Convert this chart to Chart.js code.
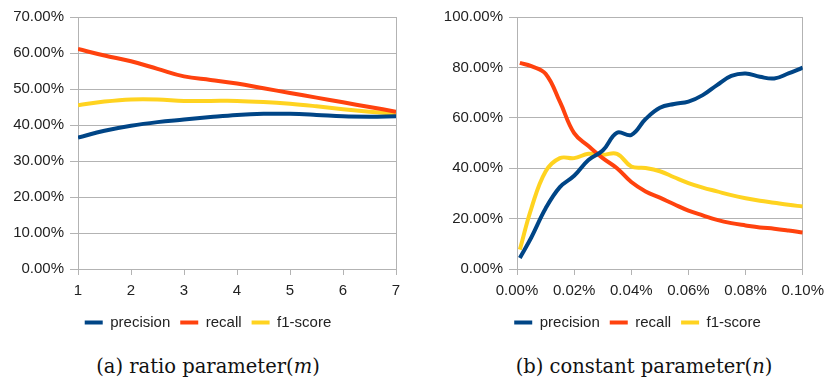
<!DOCTYPE html>
<html>
<head>
<meta charset="utf-8">
<script src="https://cdn.jsdelivr.net/npm/chart.js@4"></script>
<style>
  body { margin: 0; background: #fff; width: 831px; height: 378px; position: relative; overflow: hidden; }
  .box { position: absolute; top: 0; }
  .caption { position: absolute; top: 355px; font-family: "DejaVu Serif", serif; font-size: 19.5px; color: #111; white-space: nowrap; transform: translateX(-50%); }
</style>
</head>
<body>
<div class="box" style="left:0px"><canvas id="chartM" width="415" height="340"></canvas></div>
<div class="box" style="left:441px"><canvas id="chartN" width="390" height="340"></canvas></div>
<div class="caption" style="left:208px">(a) ratio parameter(<i>m</i>)</div>
<div class="caption" style="left:644px">(b) constant parameter(<i>n</i>)</div>
<script>
// (a) ratio parameter m
const mValues = [1, 1.5, 2, 2.5, 3, 3.5, 4, 4.5, 5, 5.5, 6, 6.5, 7];
const precisionM = [36.5, 38.4, 39.8, 40.8, 41.5, 42.2, 42.8, 43.1, 43.1, 42.8, 42.4, 42.3, 42.4];
const recallM = [61.1, 59.3, 57.7, 55.6, 53.5, 52.5, 51.5, 50.2, 48.9, 47.6, 46.3, 45.0, 43.7];
const f1M = [45.5, 46.5, 47.1, 47.1, 46.7, 46.7, 46.7, 46.4, 45.9, 45.2, 44.4, 43.7, 43.1];

// (b) constant parameter n (in %)
const nValues = [0.001, 0.005, 0.01, 0.015, 0.02, 0.025, 0.03, 0.035, 0.04, 0.045, 0.05,
  0.055, 0.06, 0.065, 0.07, 0.075, 0.08, 0.085, 0.09, 0.095, 0.1];
const precisionN = [4.4, 12.5, 24.0, 32.5, 37.0, 43.3, 47.0, 54.1, 53.2, 59.5, 64.0,
  65.5, 66.4, 69.0, 73.0, 76.6, 77.6, 76.3, 75.6, 77.6, 79.9];
const recallN = [81.8, 80.5, 77.5, 66.4, 53.9, 48.8, 44.0, 40.0, 34.5, 30.8, 28.3,
  25.7, 23.2, 21.3, 19.5, 18.2, 17.3, 16.5, 16.0, 15.3, 14.5];
const f1N = [7.7, 24.0, 38.7, 44.0, 44.0, 45.7, 45.3, 45.7, 40.7, 40.1, 38.8,
  36.4, 34.1, 32.3, 30.8, 29.3, 28.1, 27.1, 26.3, 25.5, 24.8];

const seriesNames = ['precision', 'recall', 'f1-score'];
const colors = ['#004586', '#ff420e', '#ffd320'];
const gridGray = '#b3b3b3';
const textColor = '#222';

function pts(xs, ys) {
  return xs.map((x, i) => ({ x: x, y: ys[i] }));
}

function makeDatasets(xs, lists) {
  return lists.map((ys, i) => ({
    label: seriesNames[i],
    data: pts(xs, ys),
    borderColor: colors[i],
    backgroundColor: colors[i],
    borderWidth: 4,
    pointRadius: 0,
    tension: 0.4,
    fill: false
  }));
}

// nudge the legend sideways, the original is not centred on the plot
function legendShift(dx) {
  return {
    id: 'legendShift',
    afterLayout(chart) {
      chart.legend.left += dx;
      chart.legend.right += dx;
    }
  };
}

function makeConfig(datasets, xOpts, yOpts, yWidth, padRight, dx) {
  return {
    type: 'line',
    data: { datasets: datasets },
    plugins: [legendShift(dx)],
    options: {
      responsive: false,
      animation: false,
      layout: { padding: { top: 17, right: padRight, left: 0, bottom: 0 } },
      plugins: {
        tooltip: { enabled: false },
        legend: {
          position: 'bottom',
          labels: {
            boxWidth: 18,
            boxHeight: 4,
            padding: 10,
            color: textColor,
            font: { family: 'Liberation Sans', size: 15 },
            generateLabels: function (chart) {
              const items = Chart.defaults.plugins.legend.labels.generateLabels(chart);
              items.forEach(it => { it.lineWidth = 0; });
              return items;
            }
          }
        }
      },
      scales: {
        x: {
          type: 'linear',
          min: xOpts.min,
          max: xOpts.max,
          afterFit: s => { s.height = 36; },
          border: { display: true, color: gridGray },
          grid: {
            color: c => (c.tick && c.tick.value === xOpts.max) ? gridGray : 'rgba(0,0,0,0)',
            tickColor: gridGray,
            tickLength: 6
          },
          ticks: {
            stepSize: xOpts.step,
            padding: 7,
            color: textColor,
            font: { family: 'Liberation Sans', size: 15 },
            maxRotation: 0,
            callback: xOpts.fmt
          }
        },
        y: {
          min: yOpts.min,
          max: yOpts.max,
          afterFit: s => { s.width = yWidth; },
          border: { display: true, color: gridGray },
          grid: { color: gridGray, tickColor: gridGray, tickLength: 8 },
          ticks: {
            stepSize: yOpts.step,
            padding: 6,
            color: textColor,
            font: { family: 'Liberation Sans', size: 15 },
            callback: v => v.toFixed(2) + '%'
          }
        }
      }
    }
  };
}

new Chart(document.getElementById('chartM'), makeConfig(
  makeDatasets(mValues, [precisionM, recallM, f1M]),
  { min: 1, max: 7, step: 1, fmt: v => String(v) },
  { min: 0, max: 70, step: 10 },
  78, 19, 10
));

new Chart(document.getElementById('chartN'), makeConfig(
  makeDatasets(nValues, [precisionN, recallN, f1N]),
  { min: 0, max: 0.1, step: 0.02, fmt: v => v.toFixed(2) + '%' },
  { min: 0, max: 100, step: 20 },
  76, 23, 13
));
</script>
</body>
</html>
